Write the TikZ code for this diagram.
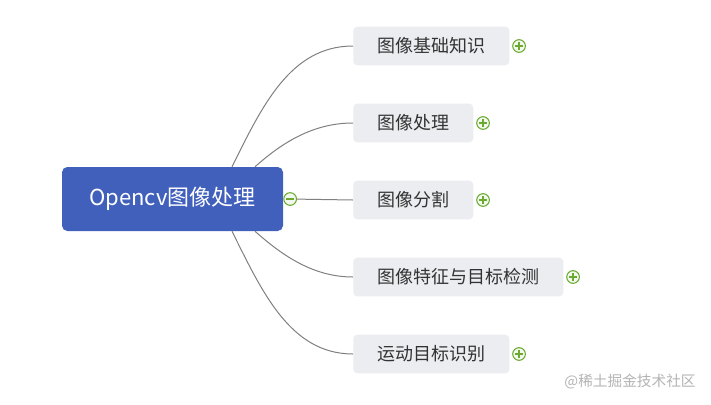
\documentclass[tikz,border=0pt]{standalone}
\usepackage{fontspec}
\newfontfamily\cjk{Noto Sans CJK SC}
\usepackage{tikz}
\usetikzlibrary{positioning}
\definecolor{MapBlue}{HTML}{4060BC}
\definecolor{MapGray}{HTML}{ECEDF1}
\definecolor{MapText}{HTML}{333333}
\definecolor{MapLine}{HTML}{808080}
\definecolor{MapGreen}{HTML}{6AAA2E}
\definecolor{MapMark}{HTML}{B4B4B4}

\begin{document}
\begin{tikzpicture}[x=0.75pt, y=-0.75pt, font=\cjk,
  root/.style={rounded corners=4pt, fill=MapBlue, text=white, font=\cjk\fontsize{16.5}{18}\selectfont, minimum width=165.75pt, minimum height=48pt},
  topic/.style={rounded corners=3pt, fill=MapGray, text=MapText, font=\cjk\fontsize{13.5}{16}\selectfont, anchor=west, inner xsep=18pt, minimum height=29pt},
  toggle/.style={circle, draw=MapGreen, fill=MapGreen!8, line width=0.8pt, minimum size=9.5pt, inner sep=0pt},
  plusmark/.style={toggle, path picture={
    \draw[MapGreen, line width=0.9pt] ([xshift=-2.8pt]path picture bounding box.center) -- ([xshift=2.8pt]path picture bounding box.center);
    \draw[MapGreen, line width=0.9pt] ([yshift=-2.8pt]path picture bounding box.center) -- ([yshift=2.8pt]path picture bounding box.center);}},
  minusmark/.style={toggle, path picture={
    \draw[MapGreen, line width=0.9pt] ([xshift=-2.8pt]path picture bounding box.center) -- ([xshift=2.8pt]path picture bounding box.center);}},
  link/.style={MapLine, line width=0.75pt}]
\useasboundingbox[fill=white] (0,0) rectangle (711,404);
\node[root] (root) at (172.5,199) {Opencv图像处理};
\node[minusmark, right=0pt of root] (rootminus) {};
\node[topic] (basic) at (353,46) {图像基础知识};
\node[topic] (proc) at (353,123) {图像处理};
\node[topic] (seg) at (353,200) {图像分割};
\node[topic] (feat) at (353,277) {图像特征与目标检测};
\node[topic] (motion) at (353,354) {运动目标识别};
\node[plusmark, right=2pt of basic] (basicplus) {};
\node[plusmark, right=2pt of proc] (procplus) {};
\node[plusmark, right=2pt of seg] (segplus) {};
\node[plusmark, right=2pt of feat] (featplus) {};
\node[plusmark, right=2pt of motion] (motionplus) {};
% branches
\draw[link] ([xshift=44.6pt]root.north) .. controls +(30,-60) and +(-63,0) .. (basic.west);
\draw[link] ([xshift=61.9pt]root.north) .. controls +(27,-24) and +(-40,0) .. (proc.west);
\draw[link] (rootminus) -- (seg.west);
\draw[link] ([xshift=61.9pt]root.south) .. controls +(27,24) and +(-40,0) .. (feat.west);
\draw[link] ([xshift=44.6pt]root.south) .. controls +(30,60) and +(-63,0) .. (motion.west);
\node[text=MapMark, font=\cjk\fontsize{11}{13}\selectfont] (mark) at (630,382) {@稀土掘金技术社区};
\end{tikzpicture}
\end{document}
